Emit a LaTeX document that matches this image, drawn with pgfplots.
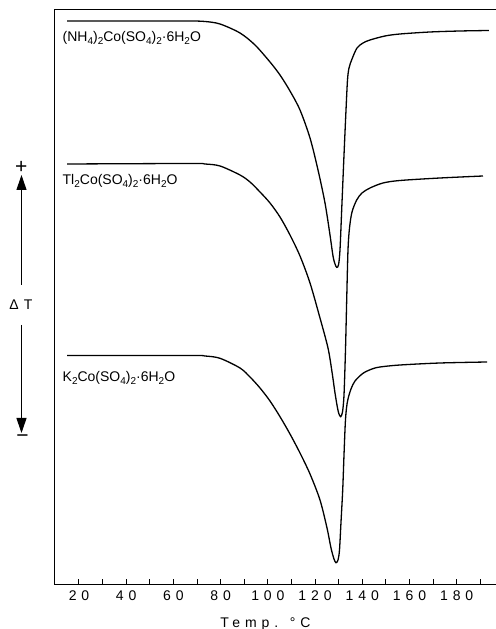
\documentclass[border=0pt]{standalone}
\usepackage{fontspec}
\setmainfont{Liberation Sans}
\newfontfamily\spfont[LetterSpace=35]{Liberation Sans}
\usepackage{pgfplots}
\pgfplotsset{compat=1.18}
\usetikzlibrary{arrows.meta}
\newcommand\sub[1]{\raisebox{-0.35ex}{\fontsize{10bp}{10bp}\selectfont #1}}

\pgfplotstableread{
T y
14.92 563
50.08 563
67.02 563
73.38 562.5
79.73 560
88.20 551
94.56 539
100.91 522
105.15 509
109.38 493
113.62 474
117.86 446
121.25 414
124.21 381
126.33 349
127.60 328
128.45 320
129.17 316.7
129.93 319
130.56 334
131.28 374
132.26 429
133.11 474
133.74 504
134.38 516
135.65 525
137.77 536
140.31 541
143.27 544
149.63 548
155.98 550
168.69 552
181.40 553
193.68 553.5
}\nhfour

\pgfplotstableread{
T y
14.92 420
67.02 420.5
73.38 420
79.73 418
88.20 409
92.44 402
96.68 392
100.91 381
105.15 367
109.38 349
113.62 328
117.86 301
122.09 266
125.48 236
127.18 212
128.45 191
129.51 176
130.14 170
130.86 167.3
131.62 172
132.26 189
132.89 234
133.40 284
133.95 334
134.59 356
135.65 372
137.64 384
139.88 391
143.27 396
148.78 401
155.98 403.5
172.93 406
191.14 408
}\tl

\pgfplotstableread{
T y
14.92 228.5
67.02 228.5
73.38 228
79.73 225.7
88.20 216
92.44 207
96.68 196
100.91 183
105.15 167.3
109.38 150
113.62 131
117.86 110
122.09 84
125.06 56
126.75 36
128.02 25
128.87 21.3
129.72 24
130.35 34
130.99 62
131.71 94
132.26 129
132.81 161
133.32 176
133.95 185
135.22 195
136.92 203
140.31 210.7
144.12 215
147.51 217
155.98 219
172.93 221
192.84 222
}\kk

\begin{document}
\begin{tikzpicture}
\useasboundingbox (0,0) rectangle (496bp,629bp);
\begin{axis}[
  at={(54bp,45bp)}, anchor=south west,
  scale only axis, width=442bp, height=574bp,
  xmin=9.41, xmax=196.65, ymin=0, ymax=574,
  axis x line*=box, axis y line*=left,
  axis line style={line width=1bp, black},
  xtick={20,40,...,180}, minor xtick={30,50,...,190},
  xtick pos=left,
  ytick=\empty,
  tick align=inside,
  major tick length=5bp, minor tick length=5bp,
  every tick/.style={line width=1bp, black},
  xticklabel style={font=\fontsize{14bp}{16bp}\spfont, yshift=-3bp},
  /pgf/number format/assume math mode=true,
  clip=false,
]
\addplot[black, line width=1.3bp, no markers, smooth, tension=0.5] table[x=T,y=y] {\nhfour};
\addplot[black, line width=1.3bp, no markers, smooth, tension=0.5] table[x=T,y=y] {\tl};
\addplot[black, line width=1.3bp, no markers, smooth, tension=0.5] table[x=T,y=y] {\kk};

\draw[line width=1bp] (rel axis cs:0,1) -- (rel axis cs:1,1);

\node[anchor=base west, inner sep=0, font=\fontsize{14bp}{16bp}\selectfont] at (axis cs:13.0,542.3) {(NH\sub{4})\sub{2}Co(SO\sub{4})\sub{2}·6H\sub{2}O};
\node[anchor=base west, inner sep=0, font=\fontsize{14bp}{16bp}\selectfont] at (axis cs:13.0,399) {Tl\sub{2}Co(SO\sub{4})\sub{2}·6H\sub{2}O};
\node[anchor=base west, inner sep=0, font=\fontsize{14bp}{16bp}\selectfont] at (axis cs:13.0,202.3) {K\sub{2}Co(SO\sub{4})\sub{2}·6H\sub{2}O};

\draw[line width=1bp, -{Triangle[width=10bp,length=15bp]}] (axis cs:-4.36,299) -- (axis cs:-4.36,409);
\draw[line width=1bp, -{Triangle[width=10bp,length=15bp]}] (axis cs:-4.36,259) -- (axis cs:-4.36,151);
\node[inner sep=0, font=\fontsize{21bp}{21bp}\selectfont] at (axis cs:-4.5,417) {+};
\node[inner sep=0, font=\fontsize{21bp}{21bp}\selectfont] at (axis cs:-3.9,145) {−};
\node[inner sep=0, font=\fontsize{14bp}{16bp}\selectfont] at (axis cs:-4.6,279) {Δ\hspace{5bp}T};
\node[anchor=base, inner sep=0, font=\fontsize{14bp}{16bp}\spfont] at (axis cs:99,-43) {Temp. °C};
\end{axis}
\end{tikzpicture}
\end{document}
